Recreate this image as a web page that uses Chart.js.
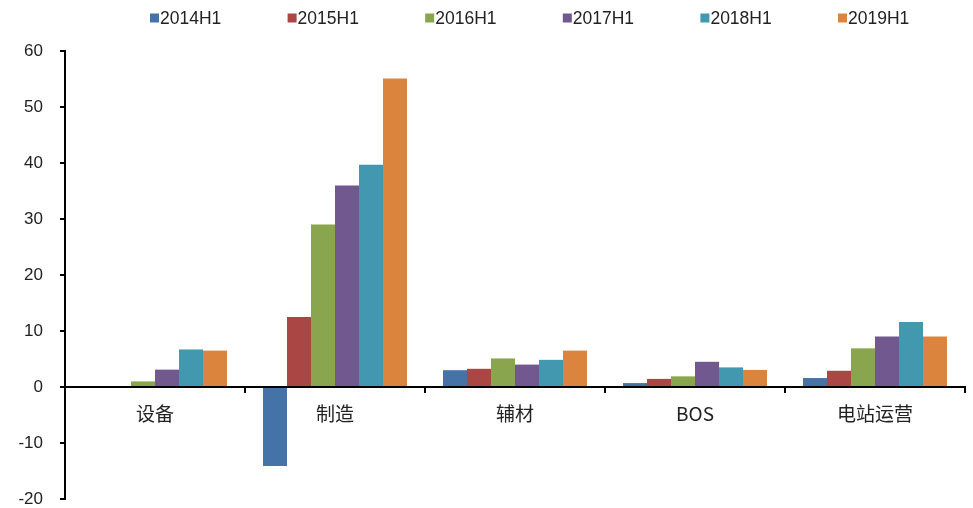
<!DOCTYPE html>
<html><head><meta charset="utf-8">
<script src="https://cdn.jsdelivr.net/npm/chart.js@4"></script>
<style>html,body{margin:0;padding:0;background:#fff}</style>
</head><body>
<canvas id="c" width="973" height="508"></canvas>
<script>
// Segment categories and half-year series
const categories = ['设备', '制造', '辅材', 'BOS', '电站运营'];
const seriesNames = ['2014H1', '2015H1', '2016H1', '2017H1', '2018H1', '2019H1'];
const v2014 = [0, -14.1, 3.0, 0.7, 1.6];
const v2015 = [0, 12.5, 3.25, 1.45, 2.9];
const v2016 = [1.0, 29.0, 5.1, 1.9, 6.9];
const v2017 = [3.1, 36.0, 4.0, 4.5, 9.0];
const v2018 = [6.7, 39.7, 4.85, 3.5, 11.6];
const v2019 = [6.5, 55.1, 6.5, 3.05, 9.0];
const yTicks = [-20, -10, 0, 10, 20, 30, 40, 50, 60];

const seriesValues = [v2014, v2015, v2016, v2017, v2018, v2019];
const colors = ['#4572A7', '#AA4643', '#89A54E', '#71588F', '#4198AF', '#DB843D'];

// Legend row across the top, drawn as square swatches with tight text
const topLegend = {
  id: 'topLegend',
  afterDraw(chart) {
    const ctx = chart.ctx;
    ctx.save();
    ctx.font = '17.5px "Liberation Sans", Arial, sans-serif';
    ctx.textBaseline = 'middle';
    ctx.textAlign = 'left';
    chart.data.datasets.forEach((ds, i) => {
      const x = 150 + i * 137.6;
      const y = 18;
      ctx.fillStyle = ds.backgroundColor;
      ctx.fillRect(x, y - 4.5, 9, 9);
      ctx.fillStyle = '#222';
      ctx.fillText(ds.label, x + 10, y + 1);
    });
    ctx.restore();
  }
};

new Chart(document.getElementById('c'), {
  type: 'bar',
  data: {
    labels: categories,
    datasets: seriesNames.map((name, i) => ({
      label: name,
      data: seriesValues[i],
      backgroundColor: colors[i],
      borderWidth: 0,
      categoryPercentage: 0.8,
      barPercentage: 1.0
    }))
  },
  options: {
    responsive: false,
    animation: false,
    layout: { padding: { top: 51, right: 8, bottom: 9, left: 0 } },
    plugins: {
      legend: { display: false },
      tooltip: { enabled: false }
    },
    scales: {
      x: {
        position: { y: 0 },
        offset: true,
        afterFit(scale) {
          scale.height = 0;
          scale.paddingTop = 0; scale.paddingBottom = 0;
        },
        grid: {
          offset: true,
          drawOnChartArea: false,
          drawTicks: true,
          tickLength: 5,
          color: '#000',
          lineWidth: 2
        },
        border: { display: true, color: '#000', width: 2 },
        ticks: {
          padding: 10,
          color: '#222',
          font: { size: 19, family: '"Noto Sans CJK SC", "Liberation Sans", sans-serif' }
        }
      },
      y: {
        min: -20,
        max: 60,
        afterBuildTicks(scale) { scale.ticks = yTicks.map(v => ({ value: v })); },
        afterFit(scale) {
          scale.width = 65;
          scale.paddingTop = 0; scale.paddingBottom = 0;
        },
        grid: {
          drawOnChartArea: false,
          drawTicks: true,
          tickLength: 5,
          color: '#000',
          lineWidth: 2
        },
        border: { display: true, color: '#000', width: 2 },
        ticks: {
          padding: 17,
          color: '#222',
          font: { size: 17, family: '"Liberation Sans", Arial, sans-serif' }
        }
      }
    }
  },
  plugins: [topLegend]
});
</script>
</body></html>
